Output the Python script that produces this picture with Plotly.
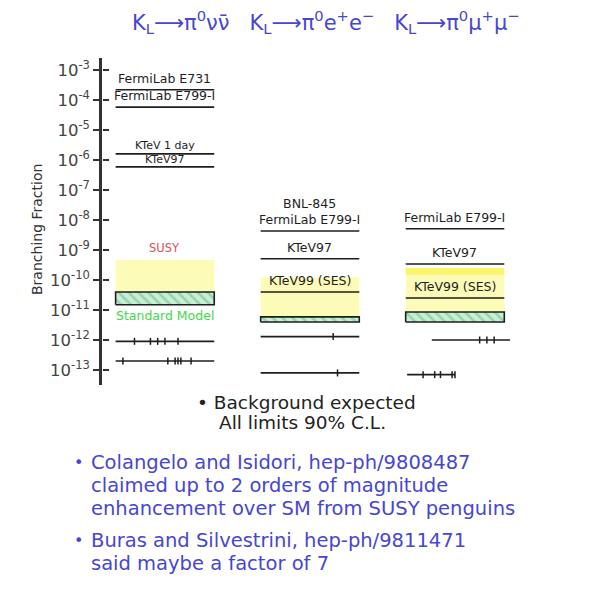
import plotly.graph_objects as go
import math

# ---------------- data ----------------
decay_titles = ["K<sub>L</sub>⟶π<sup>0</sup>νν̄",
                "K<sub>L</sub>⟶π<sup>0</sup>e<sup>+</sup>e<sup>−</sup>",
                "K<sub>L</sub>⟶π<sup>0</sup>μ<sup>+</sup>μ<sup>−</sup>"]

tick_vals = [1e-3, 1e-4, 1e-5, 1e-6, 1e-7, 1e-8, 1e-9, 1e-10, 1e-11, 1e-12, 1e-13]
tick_text = ["10<sup>-%d</sup>" % k for k in range(3, 14)]

# column 0 : KL -> pi0 nu nubar
c0_labels = ["FermiLab E731", "FermiLab E799-I", "KTeV 1 day", "KTeV97"]
c0_limits = [2.2e-4, 5.8e-5, 1.6e-6, 5.9e-7]
c0_susy = [4.0e-11, 4.6e-10]
c0_sm = [1.5e-11, 4.0e-11]
c0_sens = [9e-13, 2e-13]
c0_bg_x1 = [-0.21, -0.10, -0.05, 0.0, 0.09]
c0_bg_x2 = [-0.29, 0.02, 0.07, 0.09, 0.11, 0.18]

# column 1 : KL -> pi0 e+ e-
c1_labels = ["BNL-845<br>FermiLab E799-I", "KTeV97", "KTeV99 (SES)"]
c1_limits = [4.3e-9, 5.1e-10, 4.0e-11]
c1_susy = [5.9e-12, 1.2e-10]
c1_sm = [4.0e-12, 5.9e-12]
c1_sens = [1.3e-12, 8e-14]
c1_bg_x1 = [0.16]
c1_bg_x2 = [0.19]

# column 2 : KL -> pi0 mu+ mu-
c2_labels = ["FermiLab E799-I", "KTeV97", "KTeV99 (SES)"]
c2_limits = [5.1e-9, 3.4e-10, 2.5e-11]
c2_susy = [8.6e-12, 2.5e-10]
c2_bright = [1.5e-10, 2.5e-10]
c2_sm = [4.0e-12, 8.6e-12]
c2_sens = [1.0e-12, 7e-14]
c2_bg_x1 = [0.17, 0.22, 0.27]
c2_bg_x2 = [-0.22, -0.14, -0.10, -0.02, 0.0]

# ---------------- layout constants ----------------
HW = 0.34
INK = "#1e1e1e"
BLUE = "#4646d2"
FONT = "DejaVu Sans"
# tighter styling for the two closely spaced labels in column 0
C0_STYLE = [(12.5, 2), (12.5, 2), (11, 0), (11, -1)]

fig = go.Figure()


def hline(xc, v, x0=-HW, x1=HW, w=1.6, color=INK):
    fig.add_trace(go.Scatter(x=[xc + x0, xc + x1], y=[v, v], mode="lines",
                             line=dict(color=color, width=w), hoverinfo="skip",
                             showlegend=False))


def band(xc, lo, hi, color, pattern=False, outline=False):
    kw = {}
    if pattern:
        kw["fillpattern"] = dict(shape="\\", bgcolor=color, fgcolor="#5fb58a",
                                 size=7, solidity=0.35)
    fig.add_trace(go.Scatter(x=[xc - HW, xc + HW, xc + HW, xc - HW, xc - HW],
                             y=[lo, lo, hi, hi, lo], mode="lines",
                             fill="toself", fillcolor=color,
                             line=dict(color=INK if outline else "rgba(0,0,0,0)",
                                       width=1.6 if outline else 0),
                             hoverinfo="skip", showlegend=False, **kw))


def bgmarks(xc, v, xs):
    fig.add_trace(go.Scatter(x=[xc + x for x in xs], y=[v] * len(xs), mode="markers",
                             marker=dict(symbol="line-ns", size=5,
                                         line=dict(color=INK, width=1.5)),
                             hoverinfo="skip", showlegend=False))


def label(xc, v, text, size=12.5, color=INK, shift=2):
    fig.add_annotation(x=xc, y=math.log10(v), text=text, showarrow=False,
                       yanchor="bottom", yshift=shift,
                       font=dict(family=FONT, size=size, color=color))


# column 0
band(0, c0_susy[0], c0_susy[1], "#fdfbb8")
band(0, c0_sm[0], c0_sm[1], "#c9efd2", pattern=True, outline=True)
for lab, v, (fs, sh) in zip(c0_labels, c0_limits, C0_STYLE):
    hline(0, v)
    label(0, v, lab, size=fs, shift=sh)
hline(0, c0_sens[0])
hline(0, c0_sens[1])
bgmarks(0, c0_sens[0], c0_bg_x1)
bgmarks(0, c0_sens[1], c0_bg_x2)
label(0, c0_susy[1], "SUSY", size=11.5, color="#e05050", shift=3)
fig.add_annotation(x=0, y=math.log10(c0_sm[0]), text="Standard Model", showarrow=False,
                   yanchor="top", yshift=-1,
                   font=dict(family=FONT, size=12.5, color="#3ed84a"))

# column 1
band(1, c1_susy[0], c1_susy[1], "#fdfbb8")
band(1, c1_sm[0], c1_sm[1], "#c9efd2", pattern=True, outline=True)
for lab, v in zip(c1_labels, c1_limits):
    hline(1, v)
    label(1, v, lab)
hline(1, c1_sens[0])
hline(1, c1_sens[1])
bgmarks(1, c1_sens[0], c1_bg_x1)
bgmarks(1, c1_sens[1], c1_bg_x2)

# column 2
band(2, c2_susy[0], c2_susy[1], "#fdfbb8")
band(2, c2_bright[0], c2_bright[1], "#fbf56a")
band(2, c2_sm[0], c2_sm[1], "#c9efd2", pattern=True, outline=True)
for lab, v in zip(c2_labels, c2_limits):
    hline(2, v)
    label(2, v, lab)
hline(2, c2_sens[0], x0=-0.16, x1=0.38)
hline(2, c2_sens[1], x0=-0.33, x1=0.0)
bgmarks(2, c2_sens[0], c2_bg_x1)
bgmarks(2, c2_sens[1], c2_bg_x2)

# mirror ticks on right of the axis
fig.add_trace(go.Scatter(x=[0], y=[1e-8], yaxis="y2", mode="markers",
                         marker=dict(opacity=0), hoverinfo="skip", showlegend=False))

L, R, T, B = 102, 34, 58, 220
fig.update_layout(
    width=604, height=605,
    margin=dict(l=L, r=R, t=T, b=B),
    paper_bgcolor="white", plot_bgcolor="white",
    showlegend=False,
    xaxis=dict(range=[-0.434, 2.793], visible=False),
    yaxis=dict(type="log", range=[-13.5, -2.6], tickvals=tick_vals, ticktext=tick_text,
               showline=True, linecolor="#333", linewidth=2.5, ticks="outside",
               ticklen=6, tickwidth=1.5, tickcolor="#333", showgrid=False,
               zeroline=False, tickfont=dict(family=FONT, size=16.5, color="#444")),
    yaxis2=dict(type="log", range=[-13.5, -2.6], tickvals=tick_vals, overlaying="y",
                anchor="free", position=0, side="left", ticks="inside", ticklen=6,
                tickwidth=1.5, tickcolor="#333", showticklabels=False, showgrid=False,
                showline=False, zeroline=False),
)

W = 604 - L - R
H = 605 - T - B


def px(x):
    return (x - L) / W


def py(y):
    return (605 - B - y) / H


def text_px(x, y, s, size, color, xanchor="center", yanchor="middle", angle=0):
    fig.add_annotation(xref="paper", yref="paper", x=px(x), y=py(y), text=s,
                       showarrow=False, xanchor=xanchor, yanchor=yanchor,
                       textangle=angle, font=dict(family=FONT, size=size, color=color))


text_px(326, 22, "   ".join(decay_titles), 21, BLUE)
text_px(37, 230, "Branching Fraction", 14, "#333", angle=-90)
text_px(306, 402, "• Background expected", 18.5, "#222")
text_px(302, 422, "All limits 90% C.L.", 18.5, "#222")

notes1 = ["Colangelo and Isidori, hep-ph/9808487",
          "claimed up to 2 orders of magnitude",
          "enhancement over SM from SUSY penguins"]
notes2 = ["Buras and Silvestrini, hep-ph/9811471",
          "said maybe a factor of 7"]
text_px(78, 462, "•", 16, BLUE)
for i, s in enumerate(notes1):
    text_px(89, 462 + 23 * i, s, 19.5, BLUE, xanchor="left")
text_px(78, 540, "•", 16, BLUE)
for i, s in enumerate(notes2):
    text_px(89, 540 + 23 * i, s, 19.5, BLUE, xanchor="left")

fig.write_html("out.html", post_script="document.body.style.margin='0px';",
               config={"displayModeBar": False})
